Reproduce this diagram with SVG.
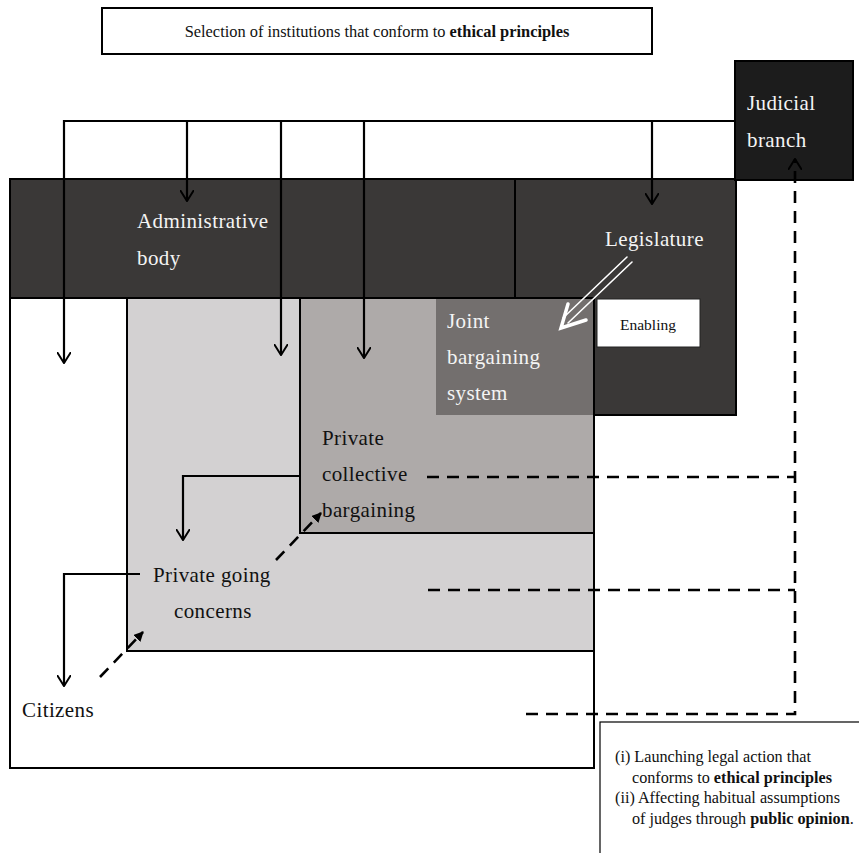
<svg xmlns="http://www.w3.org/2000/svg" width="859" height="853" viewBox="0 0 859 853">
<defs>
<style>
.t{font-family:"Liberation Serif","Times New Roman",serif;}
.lbl{font-size:21px;letter-spacing:0.4px;}
.w{fill:#f4f4f4;}
.k{fill:#111;}
.ln{fill:none;stroke:#000;stroke-width:2.2;}
.dash{fill:none;stroke:#000;stroke-width:2.6;stroke-dasharray:12 8;}
.box{stroke:#000;stroke-width:2;}
</style>
<marker id="open" viewBox="0 0 12 14" refX="11" refY="7" markerWidth="12" markerHeight="14" markerUnits="userSpaceOnUse" orient="auto">
<path d="M0,0 L11,7 L0,14" fill="none" stroke="#000" stroke-width="2"/>
</marker>
<marker id="fill" viewBox="0 0 10 10" refX="9" refY="5" markerWidth="10" markerHeight="10" markerUnits="userSpaceOnUse" orient="auto">
<path d="M0,0 L10,5 L0,10 Z" fill="#000"/>
</marker>
</defs>
<rect width="859" height="853" fill="#fff"/>

<g id="title">
<rect x="102" y="8" width="550" height="46" fill="#fff" class="box" stroke-width="1.5"/>
<text class="t" x="377" y="37" font-size="16.4" text-anchor="middle" fill="#111">Selection of institutions that conform to <tspan font-weight="bold">ethical principles</tspan></text>
</g>

<g id="citizens">
<rect x="10" y="298" width="584" height="470" fill="#fff" class="box"/>
<text class="t lbl k" x="22" y="717">Citizens</text>
</g>

<g id="going-concerns">
<rect x="127" y="298" width="467" height="353" fill="#d3d1d2" class="box" stroke-width="1.5"/>
<text class="t lbl k" x="153" y="582">Private going</text>
<text class="t lbl k" x="174" y="618">concerns</text>
</g>

<g id="collective">
<rect x="300" y="298" width="294" height="235" fill="#aeaaa9" class="box" stroke-width="1.5"/>
<text class="t lbl k" x="322" y="445">Private</text>
<text class="t lbl k" x="322" y="481">collective</text>
<text class="t lbl k" x="322" y="517">bargaining</text>
</g>

<g id="joint">
<rect x="436" y="298" width="158" height="117" fill="#736f6e"/>
<text class="t lbl w" x="447" y="328">Joint</text>
<text class="t lbl w" x="447" y="364">bargaining</text>
<text class="t lbl w" x="447" y="400">system</text>
</g>

<g id="admin-legislature">
<path d="M10,179 H736 V415 H594 V298 H10 Z" fill="#3a3837" class="box"/>
<line x1="515" y1="179" x2="515" y2="298" stroke="#000" stroke-width="2"/>
<text class="t lbl w" x="137" y="228">Administrative</text>
<text class="t lbl w" x="137" y="265">body</text>
<text class="t lbl w" x="605" y="246">Legislature</text>
</g>

<g id="enabling">
<rect x="597" y="299" width="103" height="48" fill="#fff" stroke="#222" stroke-width="1"/>
<text class="t k" x="648" y="330" font-size="15.5" text-anchor="middle">Enabling</text>
</g>

<g id="judicial">
<rect x="735" y="61" width="118" height="119" fill="#1c1c1c" class="box"/>
<text class="t lbl w" x="747" y="110">Judicial</text>
<text class="t lbl w" x="747" y="147">branch</text>
</g>

<g id="note">
<rect x="600" y="722" width="262" height="140" fill="#fff" stroke="#000" stroke-width="1.2"/>
<text class="t k" font-size="16.2">
<tspan x="615" y="762">(i) Launching legal action that</tspan>
<tspan x="632" y="783">conforms to <tspan font-weight="bold">ethical principles</tspan></tspan>
<tspan x="615" y="803">(ii) Affecting habitual assumptions</tspan>
<tspan x="632" y="824">of judges through <tspan font-weight="bold">public opinion</tspan>.</tspan>
</text>
</g>

<g id="connectors">
<path class="ln" d="M735,121 H64 V363" marker-end="url(#open)"/>
<path class="ln" d="M187,121 V201" marker-end="url(#open)"/>
<path class="ln" d="M281,121 V355" marker-end="url(#open)"/>
<path class="ln" d="M364,121 V358" marker-end="url(#open)"/>
<path class="ln" d="M652,121 V204" marker-end="url(#open)"/>
<path class="ln" d="M300,476 H183 V540" marker-end="url(#open)"/>
<path class="ln" d="M140,574 H64 V686" marker-end="url(#open)"/>
<path class="dash" d="M100,677 L143,632" marker-end="url(#fill)" stroke-dasharray="9 7"/>
<path class="dash" d="M276,560 L321,513" marker-end="url(#fill)" stroke-dasharray="9 7"/>
<path class="dash" d="M427,477 H795"/>
<path class="dash" d="M428,590 H795"/>
<path class="dash" d="M526,714 H795 V159" marker-end="url(#open)"/>
<g id="legislature-arrow" fill="none" stroke="#fff" stroke-linecap="round">
<line x1="632" y1="262" x2="568" y2="323" stroke-width="1.6"/>
<line x1="627" y1="257" x2="563" y2="318" stroke-width="1.6"/>
<path d="M568,304 L561,328 L586,320" stroke-width="3.5" stroke-linejoin="miter"/>
</g>
</g>
</svg>
